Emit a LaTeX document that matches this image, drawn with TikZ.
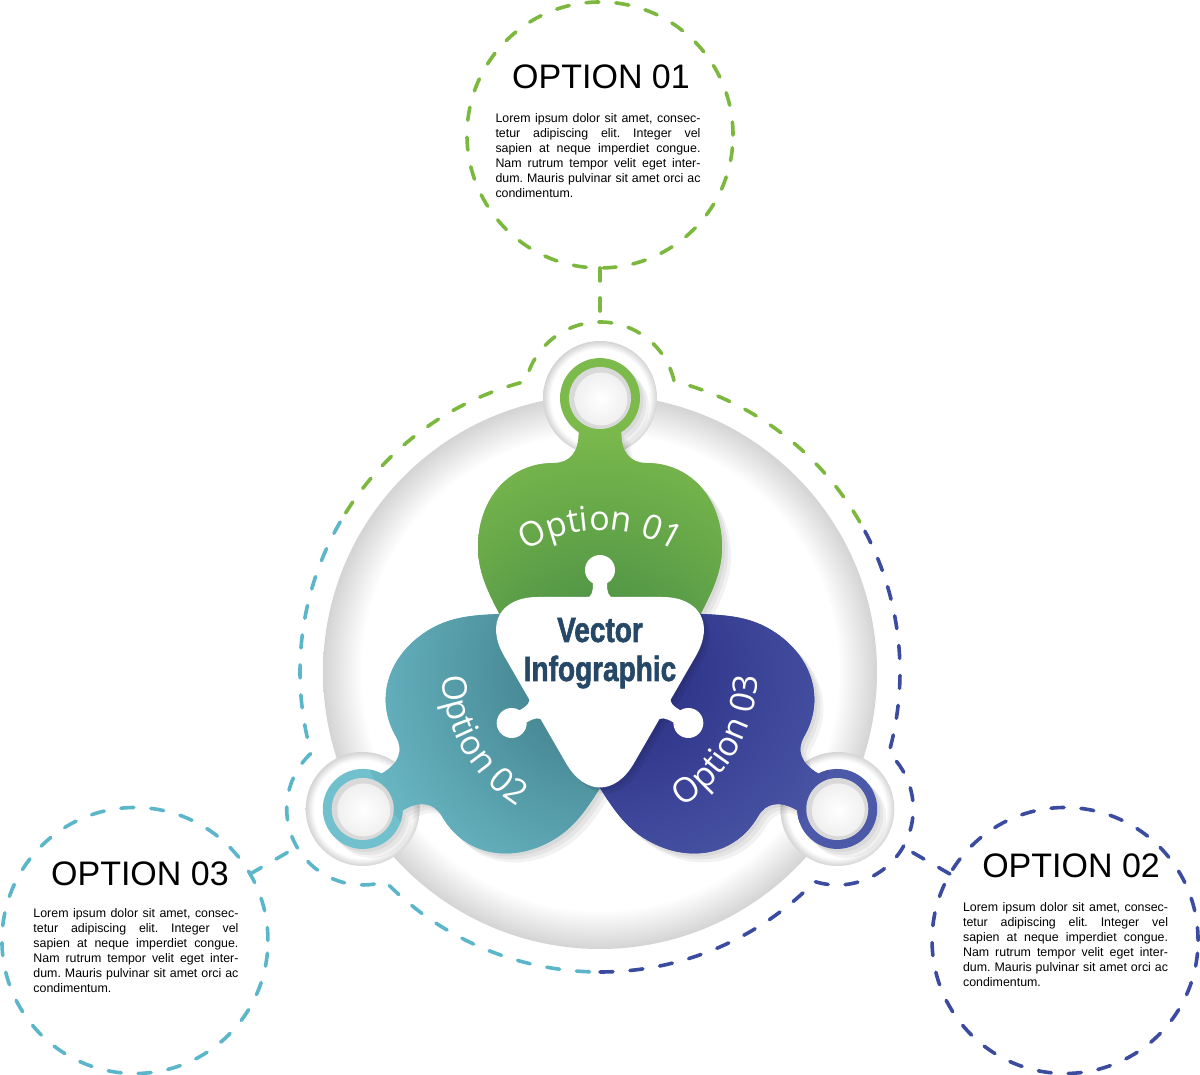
\documentclass[tikz,border=0pt]{standalone}
\usepackage{fontspec}
\setmainfont{Liberation Sans}
\newfontfamily\lobefont{Open Sans}
\newfontfamily\vecfont[FakeStretch=0.8, BoldFeatures={FakeBold=1.6}]{Liberation Sans}
\usetikzlibrary{calc,decorations.text}

\definecolor{greenline}{RGB}{124,184,62}
\definecolor{tealline}{RGB}{91,182,201}
\definecolor{blueline}{RGB}{59,75,160}
\definecolor{greenlight}{RGB}{124,186,76}
\definecolor{greendark}{RGB}{66,136,68}
\definecolor{teallight}{RGB}{112,192,205}
\definecolor{tealdark}{RGB}{58,118,130}
\definecolor{bluelight}{RGB}{76,88,168}
\definecolor{bluedark}{RGB}{38,42,128}
\definecolor{vecblue}{RGB}{38,72,102}

\pgfdeclareradialshading{rimshade}{\pgfpoint{0bp}{0bp}}{color(0bp)=(white); color(21.5bp)=(white); color(25bp)=(black!17); color(50bp)=(black!17)}

\tikzset{
  lobe outline/.style={insert path={(0,0) .. controls (50,0) and (85,30) .. (100,57)
    .. controls (112,80) and (122,100) .. (122,125) .. controls (122,172) and (92,209) .. (46,209)
    .. controls (30,209) and (21,220) .. (21.2,240) arc[start angle=-58, end angle=238, radius=40]
    .. controls (-21,220) and (-30,209) .. (-46,209) .. controls (-92,209) and (-122,172) .. (-122,125)
    .. controls (-122,100) and (-112,80) .. (-100,57) .. controls (-85,30) and (-50,0) .. (0,0) -- cycle}},
  center outline/.style={insert path={[rounded corners=68pt] (30:150) -- (150:150) -- (270:150) -- cycle}},
  tab outline/.style={insert path={(-15,73) .. controls (-8,75) and (-7,80) .. (-7,88.7)
    arc[start angle=242.2, end angle=-62.2, radius=15] .. controls (7,80) and (8,75) .. (15,73) -- cycle}}
}

\newcommand\loremtext{\frenchspacing\hyphenpenalty=10000\relax Lorem ipsum dolor sit amet, consec-\linebreak tetur adipiscing elit. Integer vel\linebreak sapien at neque imperdiet congue.\linebreak Nam rutrum tempor velit eget inter-\linebreak dum. Mauris pulvinar sit amet orci ac\linebreak condimentum.}

\begin{document}
\begin{tikzpicture}[x=1pt,y=1pt,
  dashline/.style={line width=3.6pt, dash pattern=on 13pt off 17pt, line cap=round},
  optcircle/.style={circle, draw, dashline, minimum size=266pt, inner sep=0pt, outer sep=0pt},
  knobzone/.style={circle, minimum size=152pt, inner sep=0pt, outer sep=0pt},
  optitle/.style={font=\fontsize{34}{34}\selectfont, anchor=base, inner sep=0pt},
  optbody/.style={font=\fontsize{12.4}{15}\selectfont, text width=205pt, align=justify, anchor=north, inner sep=0pt},
  lobelabel/.style={decorate, decoration={text along path, text align=center, text color=white, text={|\lobefont\fontsize{34}{34}\selectfont|#1}}},
  vectext/.style={font=\vecfont\bfseries\fontsize{35}{35}\selectfont, text=vecblue, anchor=base, inner sep=0pt}]

\useasboundingbox[fill=white] (0,0) rectangle (1200,1075);
\coordinate (C) at (600,403);

% ring and knob halos
\shade[shading=rimshade] (C) circle (277);
\foreach \a in {90,210,330}
  \shade[shading=rimshade] ($(C)+(\a:274)$) circle (57);

% lobes
\foreach \a/\lc/\dc in {90/greenlight/greendark,210/teallight/tealdark,330/bluelight/bluedark}{
  \foreach \s in {3,6,9}
    \fill[black, opacity=0.05, shift={($(C)+(\s,-\s)$)}, rotate=\a-90, lobe outline];
  \begin{scope}[shift={(C)}, rotate=\a-90]
    \fill[color=\lc, lobe outline];
    \begin{scope}
      \clip[lobe outline];
      \shade[inner color=\dc, outer color=\lc] (0,0) circle (250);
    \end{scope}
  \end{scope}
}

% knob buttons
\foreach \a in {90,210,330}{
  \fill[black!15] ($(C)+(\a:274)$) circle (31);
  \shade[inner color=white, outer color=black!6] ($(C)+(\a:274)+(1,-1)$) circle (26.5);
}

% centre piece
\foreach \s in {3,6}
  \fill[black, opacity=0.06, shift={($(C)+(\s,-\s)$)}, center outline];
\begin{scope}[shift={(C)}]
  \fill[white, center outline];
  \foreach \a in {90,210,330}
    \fill[white, rotate=\a-90, tab outline];
\end{scope}
\node[vectext] (vec) at ($(C)+(0,30)$) {Vector};
\node[vectext] (info) at ($(C)+(0,-9)$) {Infographic};

% curved labels
\path[lobelabel=Option 01] ($(C)+(140:142)$) arc[start angle=140, end angle=40, radius=142];
\path[lobelabel=Option 02] ($(C)+(165:158)$) arc[start angle=165, end angle=255, radius=158];
\path[lobelabel=Option 03] ($(C)+(285:158)$) arc[start angle=285, end angle=375, radius=158];

% dashed outline
\foreach \a/\col in {90/greenline,210/tealline,330/blueline}
  \draw[dashline, draw=\col] ($(C)+(\a-60:300)$) arc[start angle=\a-60, end angle=\a-14.31, radius=300]
    arc[start angle=\a-77.31, end angle=\a+77.31, radius=76]
    arc[start angle=\a+14.31, end angle=\a+60, radius=300];

% option circles
\node[optcircle, draw=greenline] (opt1) at ($(C)+(90:537)$) {};
\node[optcircle, draw=blueline] (opt2) at ($(C)+(330:537)$) {};
\node[optcircle, draw=tealline] (opt3) at ($(C)+(210:537)$) {};
\node[knobzone] (knob1) at ($(C)+(90:274)$) {};
\node[knobzone] (knob2) at ($(C)+(330:274)$) {};
\node[knobzone] (knob3) at ($(C)+(210:274)$) {};
\draw[dashline, draw=greenline] (opt1) -- (knob1);
\draw[dashline, draw=blueline] (opt2) -- (knob2);
\draw[dashline, draw=tealline] (opt3) -- (knob3);

\node[optitle] (title1) at ($(opt1)+(1,46)$) {OPTION 01};
\node[optbody] (body1) at ($(opt1)+(-2,21.2)$) {\loremtext};
\node[optitle] (title2) at ($(opt2)+(6,63)$) {OPTION 02};
\node[optbody] (body2) at ($(opt2)+(0.5,38.2)$) {\loremtext};
\node[optitle] (title3) at ($(opt3)+(5,55)$) {OPTION 03};
\node[optbody] (body3) at ($(opt3)+(1,32.2)$) {\loremtext};
\end{tikzpicture}
\end{document}
